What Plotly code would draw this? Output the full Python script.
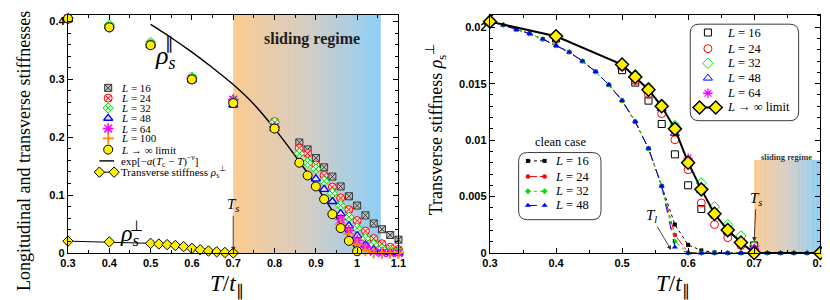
import plotly.graph_objects as go

# ---------------- data: left panel (longitudinal stiffness) ----------------
T_par_low = [0.3, 0.4, 0.5, 0.6, 0.7, 0.8]
T_par_high = [0.86, 0.88, 0.9, 0.92, 0.94, 0.96, 0.98, 1.0, 1.02, 1.04, 1.06, 1.08, 1.1]
T_par_L48_high = [0.9, 0.92, 0.94, 0.96, 0.98, 1.0, 1.02, 1.04, 1.06, 1.08, 1.1]
T_par_L64_high = [0.96, 0.98, 1.0, 1.02, 1.04, 1.06, 1.08, 1.1]
T_par_L100 = [0.96, 0.98, 1.0, 1.02, 1.04, 1.06, 1.08, 1.1]
T_par_inf_high = [0.86, 0.88, 0.9, 0.92, 0.94, 0.96, 0.98, 1.0]

par_L16 = [0.405, 0.391, 0.360, 0.300, 0.258, 0.224,
           0.191, 0.179, 0.164, 0.148, 0.132, 0.115, 0.098, 0.082, 0.065, 0.051, 0.041, 0.031, 0.023]
par_L24 = [0.405, 0.392, 0.361, 0.301, 0.262, 0.227,
           0.181, 0.172, 0.152, 0.134, 0.114, 0.095, 0.075, 0.056, 0.038, 0.025, 0.016, 0.010, 0.006]
par_L32 = [0.406, 0.394, 0.364, 0.304, 0.264, 0.226,
           0.172, 0.156, 0.145, 0.124, 0.103, 0.082, 0.062, 0.043, 0.025, 0.014, 0.007, 0.004, 0.002]
par_L48 = [0.405, 0.391, 0.359, 0.299, 0.256, 0.215,
           0.128, 0.110, 0.089, 0.068, 0.047, 0.030, 0.014, 0.0055, 0.002, 0.001, 0.0]
par_L64 = [0.405, 0.390, 0.360, 0.301, 0.265, 0.218,
           0.058, 0.039, 0.022, 0.011, 0.002, 0.0, 0.0, 0.0]
par_L100 = [0.050, 0.033, 0.015, 0.004, 0.0, 0.0, 0.0, 0.0]
par_inf = [0.405, 0.390, 0.359, 0.300, 0.259, 0.215,
           0.156, 0.134, 0.115, 0.093, 0.067, 0.043, 0.021, 0.003]

# fit curve exp[-a(Tc-T)^-nu]
T_fit = [0.5, 0.55, 0.6, 0.65, 0.7, 0.75, 0.8, 0.85, 0.9, 0.95, 0.98, 1.0]
fit_vals = [0.395, 0.372, 0.347, 0.320, 0.291, 0.257, 0.215, 0.168, 0.117, 0.062, 0.028, 0.0]

# ---------------- data: transverse stiffness ----------------
T_perp = [0.3, 0.4, 0.5, 0.52, 0.54, 0.56, 0.58, 0.6, 0.62, 0.64, 0.66, 0.68, 0.7, 0.8]
perp_inf = [0.0205, 0.0192, 0.0167, 0.0156, 0.01447, 0.0130, 0.0110, 0.0080,
            0.00564, 0.00347, 0.00203, 0.00093, 0.0, 0.0]

T_fin = [0.4, 0.5, 0.52, 0.54, 0.56, 0.58, 0.6, 0.62, 0.64, 0.66, 0.68, 0.7]
perp_L16 = [0.0190, 0.0162, 0.0151, 0.0135, 0.01143, 0.00874, 0.0060, 0.00390, 0.0034, 0.0019, 0.0009, 0.00067]
perp_L24 = [0.0191, 0.0165, 0.01528, 0.01403, 0.01235, 0.01004, 0.00738, 0.00443, 0.00252, 0.00136, 0.00067, 0.0003]
perp_L32 = [0.0193, 0.0168, 0.0158, 0.0147, 0.0132, 0.0113, 0.0082, 0.0062, 0.0041, 0.0025, 0.0015, 0.0006]
perp_L48 = [0.0193, 0.0165, 0.0156, 0.0144, 0.0128, 0.0106, 0.0079, 0.0055, 0.0034, 0.0019, 0.0009, 0.0004]
T_fin64 = [0.58, 0.6, 0.62, 0.64, 0.66, 0.68, 0.7]
perp_L64 = [0.0112, 0.0084, 0.0057, 0.0036, 0.0021, 0.0010, 0.0004]

T_clean = [0.3, 0.32, 0.34, 0.36, 0.38, 0.4, 0.42, 0.44, 0.46, 0.48, 0.5, 0.52, 0.54, 0.56,
           0.58, 0.6, 0.62, 0.64, 0.66, 0.68, 0.7, 0.72, 0.74, 0.76, 0.78, 0.8]
clean_common = [0.0205, 0.0202, 0.0198, 0.01944, 0.01895, 0.01837, 0.0178, 0.0170,
                0.01606, 0.0149, 0.01351, 0.01163, 0.00926, 0.00593]
clean_L16 = clean_common + [0.00252, 0.00072, 0.00023, 0.00005, 0, 0, 0, 0, 0, 0, 0, 0]
clean_L24 = clean_common + [0.00159, 0.00005, 0, 0, 0, 0, 0, 0, 0, 0, 0, 0]
clean_L32 = clean_common + [0.00101, 0.0, 0, 0, 0, 0, 0, 0, 0, 0, 0, 0]
clean_L48 = clean_common + [0.00052, 0.0, 0, 0, 0, 0, 0, 0, 0, 0, 0, 0]

x_ticks_left = [0.3, 0.4, 0.5, 0.6, 0.7, 0.8, 0.9, 1.0, 1.1]
x_ticks_right = [0.3, 0.4, 0.5, 0.6, 0.7, 0.8]
y_ticks_left = [0, 0.1, 0.2, 0.3, 0.4]
y_ticks_right = [0, 0.005, 0.01, 0.015, 0.02]

# ---------------- styles ----------------
SERIF = "Liberation Serif"
SANS = "Liberation Sans"
W, H = 830, 300

sty = {
    "L16": dict(symbol="square-x", size=7, color="rgb(200,200,200)", line=dict(color="rgb(50,50,50)", width=1)),
    "L24": dict(symbol="circle-x", size=8, color="rgb(255,220,220)", line=dict(color="red", width=1)),
    "L32": dict(symbol="diamond-x", size=8, color="rgb(220,255,220)", line=dict(color="rgb(0,220,0)", width=1)),
    "L48": dict(symbol="triangle-up", size=8, color="rgb(235,235,255)", line=dict(color="blue", width=1.3)),
    "L64": dict(symbol="asterisk-open", size=9, color="magenta", line=dict(color="magenta", width=1.6)),
    "L100": dict(symbol="cross-thin-open", size=8, color="darkorange", line=dict(color="darkorange", width=1.8)),
    "inf": dict(symbol="circle", size=9, color="rgb(255,240,0)", line=dict(color="black", width=1)),
}
sty_r = {
    "L16": dict(symbol="square-open", size=7, color="black", line=dict(color="black", width=1)),
    "L24": dict(symbol="circle-open", size=8, color="red", line=dict(color="red", width=1)),
    "L32": dict(symbol="diamond-open", size=8, color="rgb(0,230,0)", line=dict(color="rgb(0,230,0)", width=1)),
    "L48": dict(symbol="triangle-up-open", size=8, color="blue", line=dict(color="blue", width=1)),
    "L64": dict(symbol="asterisk-open", size=8, color="magenta", line=dict(color="magenta", width=1.3)),
    "inf": dict(symbol="diamond", size=10, color="rgb(255,240,0)", line=dict(color="black", width=1.5)),
}
clean_sty = [
    ("L16", clean_L16, "black", "dot", dict(symbol="square", size=4, color="black")),
    ("L24", clean_L24, "red", "dashdot", dict(symbol="circle", size=4.5, color="red")),
    ("L32", clean_L32, "rgb(0,220,0)", "dot", dict(symbol="diamond", size=4.5, color="rgb(0,220,0)")),
    ("L48", clean_L48, "blue", "dash", dict(symbol="triangle-up", size=5.5, color="blue")),
]

fig = go.Figure()

def sc(x, y, xa, ya, marker=None, mode="markers", line=None):
    fig.add_trace(go.Scatter(x=x, y=y, xaxis=xa, yaxis=ya, mode=mode, marker=marker,
                             line=line, showlegend=False, cliponaxis=False, hoverinfo="skip"))

# ---- left panel traces ----
sc(T_fit, fit_vals, "x", "y", mode="lines", line=dict(color="black", width=1.4, shape="spline"))
sc(T_perp[:13], perp_inf[:13], "x", "y", mode="lines+markers",
   line=dict(color="black", width=1),
   marker=dict(symbol="diamond", size=8, color="rgb(255,240,0)", line=dict(color="black", width=1)))
sc(T_par_low + T_par_high, par_L16, "x", "y", marker=sty["L16"])
sc(T_par_low + T_par_high, par_L24, "x", "y", marker=sty["L24"])
sc(T_par_low + T_par_high, par_L32, "x", "y", marker=sty["L32"])
sc(T_par_low + T_par_L48_high, par_L48, "x", "y", marker=sty["L48"])
sc(T_par_low + T_par_L64_high, par_L64, "x", "y", marker=sty["L64"])
sc(T_par_L100, par_L100, "x", "y", marker=sty["L100"])
sc(T_par_low + T_par_inf_high, par_inf, "x", "y", marker=sty["inf"])

# ---- right panel traces ----
for key, vals, col, dash, mk in clean_sty:
    sc(T_clean, vals, "x2", "y2", mode="lines+markers", line=dict(color=col, width=1, dash=dash), marker=mk)
sc(T_fin, perp_L16, "x2", "y2", marker=sty_r["L16"])
sc(T_fin, perp_L24, "x2", "y2", marker=sty_r["L24"])
sc(T_fin, perp_L32, "x2", "y2", marker=sty_r["L32"])
sc(T_fin, perp_L48, "x2", "y2", marker=sty_r["L48"])
sc(T_fin64, perp_L64, "x2", "y2", marker=sty_r["L64"])
sc(T_perp, perp_inf, "x2", "y2", mode="lines+markers", line=dict(color="black", width=2), marker=sty_r["inf"])

# ---------------- legends (drawn in a pixel overlay) ----------------
shapes = []
ann = []

def ptext(x, y, text, size=12, xanchor="left", family=SERIF, color="black", angle=0, yanchor="middle"):
    ann.append(dict(x=x, y=y, xref="x3", yref="y3", text=text, showarrow=False, xanchor=xanchor,
                    yanchor=yanchor, textangle=angle, borderpad=0,
                    font=dict(family=family, size=size, color=color)))

# left legend
leg_y = [81.5, 92, 102, 112.5, 123, 133, 144.5, 156, 167.5]
leg_lbl = ["<i>L</i> = 16", "<i>L</i> = 24", "<i>L</i> = 32", "<i>L</i> = 48", "<i>L</i> = 64",
           "<i>L</i> = 100", "<i>L</i> → ∞ limit",
           "exp[−<i>a</i>(<i>T</i><sub>c</sub> − <i>T</i>)<sup>−<i>ν</i></sup>]",
           "Transverse stiffness <i>ρ</i><sub>s</sub><sup>⊥</sup>"]
for k, yy in zip(["L16", "L24", "L32", "L48", "L64", "L100", "inf"], leg_y[:7]):
    sc([94], [yy], "x3", "y3", marker=sty[k])
sc([85, 100], [leg_y[7]] * 2, "x3", "y3", mode="lines", line=dict(color="black", width=1.4))
sc([85, 100], [leg_y[8]] * 2, "x3", "y3", mode="lines+markers", line=dict(color="black", width=1),
   marker=dict(symbol="diamond", size=8, color="rgb(255,240,0)", line=dict(color="black", width=1)))
for yy, t in zip(leg_y, leg_lbl):
    ptext(106, yy, t, size=11)

def rrect(x0, y0, x1, y1, r):
    return (f"M{x0+r},{y0} L{x1-r},{y0} Q{x1},{y0} {x1},{y0+r} L{x1},{y1-r} Q{x1},{y1} {x1-r},{y1} "
            f"L{x0+r},{y1} Q{x0},{y1} {x0},{y1-r} L{x0},{y0+r} Q{x0},{y0} {x0+r},{y0} Z")

# right legend (finite L)
shapes.append(dict(type="path", path=rrect(687.5, 16.5, 798, 115, 9), xref="x3", yref="y3",
                   line=dict(color="rgb(60,60,60)", width=1), fillcolor="white", layer="below"))
r_y = [25, 41.5, 56.5, 71.5, 87, 101.5]
for k, yy in zip(["L16", "L24", "L32", "L48", "L64"], r_y[:5]):
    sc([705.5], [yy], "x3", "y3", marker=sty_r[k])
sc([697, 713.5], [r_y[5]] * 2, "x3", "y3", mode="lines+markers", line=dict(color="black", width=2),
   marker=sty_r["inf"])
for yy, t in zip(r_y, ["<i>L</i> = 16", "<i>L</i> = 24", "<i>L</i> = 32", "<i>L</i> = 48", "<i>L</i> = 64",
                       "<i>L</i> → ∞ limit"]):
    ptext(724, yy, t, size=12.5)

# clean-case legend
shapes.append(dict(type="path", path=rrect(512.5, 147.5, 596.5, 216, 9), xref="x3", yref="y3",
                   line=dict(color="rgb(60,60,60)", width=1), fillcolor="white", layer="below"))
ptext(555, 137, "clean case", size=12.5, xanchor="center")
c_y = [156, 172, 187, 201.5]
for (key, vals, col, dash, mk), yy in zip(clean_sty, c_y):
    sc([522, 539], [yy, yy], "x3", "y3", mode="lines+markers", line=dict(color=col, width=1, dash=dash), marker=mk)
    ptext(549, yy, f"<i>L</i> = {key[1:]}", size=12.5)

# ---------------- shaded sliding regime (gradient) ----------------
stops = [(0.0, (250, 203, 145)), (0.5, (214, 205, 196)), (1.0, (140, 206, 247))]

def gcol(f):
    for (f0, c0), (f1, c1) in zip(stops[:-1], stops[1:]):
        if f <= f1:
            t = (f - f0) / (f1 - f0)
            return "rgb(%d,%d,%d)" % tuple(round(a + (b - a) * t) for a, b in zip(c0, c1))
    return "rgb(%d,%d,%d)" % stops[-1][1]

def gradient(xref, yref, xa, xb, ya, yb, n=60):
    for i in range(n):
        x0 = xa + (xb - xa) * i / n
        x1 = xa + (xb - xa) * (i + 1) / n + (xb - xa) * 0.004
        if i == n - 1:
            x1 = xb
        shapes.append(dict(type="rect", xref=xref, yref=yref, x0=x0, x1=x1, y0=ya, y1=yb,
                           fillcolor=gcol((i + 0.5) / n), line=dict(width=0), layer="below"))

gradient("x", "y domain", 0.7, 1.057, 0, 1)
gradient("x2", "y2", 0.7, 0.8, 0, 0.00825, n=40)

# ---------------- text annotations ----------------
ptext(302, 32, "<b>sliding regime</b>", size=16, xanchor="center", color="rgb(30,30,30)")
ptext(785.5, 152.5, "<b>sliding regime</b>", size=8.5, xanchor="center", color="rgb(50,50,50)")

# rho labels
ptext(141, 50, "<i>ρ</i><sub><i>s</i></sub>", size=26, xanchor="left")
ptext(156.5, 36, "∥", size=17, xanchor="center")
ptext(105, 232, "<i>ρ</i><sub><i>s</i></sub>", size=24, xanchor="left")
ptext(122.5, 222, "⊥", size=15, xanchor="center")

# axis titles
ptext(8, 146, "Longitudinal and transverse stiffnesses", size=18, xanchor="center", angle=-90)
ptext(428, 124, "Transverse stiffness <i>ρ</i><sub>s</sub><sup>⊥</sup>", size=18, xanchor="center", angle=-90)
ptext(215, 283, "<i>T</i>/<i>t</i><sub>∥</sub>", size=23, xanchor="center")
ptext(670, 283, "<i>T</i>/<i>t</i><sub>∥</sub>", size=23, xanchor="center")

# arrows
def arrow(x, y, xref, yref, text, ax, ay):
    ann.append(dict(x=x, y=y, xref=xref, yref=yref, text=text, showarrow=True, ax=ax, ay=ay,
                    arrowhead=2, arrowsize=1, arrowwidth=0.9, arrowcolor="rgb(50,50,50)",
                    font=dict(family=SERIF, size=15, color="black")))

arrow(0.7, 0.003, "x", "y", "<i>T</i><sub><i>s</i></sub>", 0, -46)
arrow(1.057, -0.012, "x", "y", "<i>T</i><sub><i>u</i></sub>", 0, 33)
arrow(0.7, 0.0010, "x2", "y2", "<i>T</i><sub><i>s</i></sub>", 2, -43)
arrow(0.5743, 0.00026, "x2", "y2", "<i>T</i><sub><i>l</i></sub>", -20, -34)

# ---------------- axes ----------------
def ax_common(**kw):
    d = dict(showline=True, linecolor="black", linewidth=1.4, mirror="allticks", ticks="inside",
             ticklen=5, tickwidth=1, tickcolor="black", showgrid=False, zeroline=False,
             tickfont=dict(family=SANS, size=11, color="black"), fixedrange=True)
    d.update(kw)
    return d

def bold(vals):
    return ["<b>%g</b>" % v for v in vals]

yd = [(H - 250) / H, (H - 7) / H]
fig.update_layout(
    width=W, height=H, autosize=False,
    margin=dict(l=0, r=0, t=0, b=0),
    paper_bgcolor="white", plot_bgcolor="rgba(0,0,0,0)",
    showlegend=False,
    xaxis=ax_common(domain=[53 / W, 390 / W], range=[0.3, 1.1], anchor="y",
                    tickvals=x_ticks_left, ticktext=bold(x_ticks_left),
                    minor=dict(dtick=0.05, tick0=0.3, ticks="inside", ticklen=3, tickcolor="black")),
    yaxis=ax_common(domain=yd, range=[0, 0.4115], anchor="x",
                    tickvals=y_ticks_left, ticktext=bold(y_ticks_left),
                    minor=dict(dtick=0.02, tick0=0, ticks="inside", ticklen=3, tickcolor="black")),
    xaxis2=ax_common(domain=[483.3 / W, 820 / W], range=[0.3, 0.8], anchor="y2",
                     tickvals=x_ticks_right, ticktext=bold(x_ticks_right),
                     minor=dict(dtick=0.05, tick0=0.3, ticks="inside", ticklen=3, tickcolor="black")),
    yaxis2=ax_common(domain=yd, range=[0, 0.0211], anchor="x2",
                     tickvals=y_ticks_right, ticktext=bold(y_ticks_right),
                     minor=dict(dtick=0.001, tick0=0, ticks="inside", ticklen=3, tickcolor="black")),
    xaxis3=dict(domain=[0, 1], range=[0, W], visible=False, anchor="y3", fixedrange=True),
    yaxis3=dict(domain=[0, 1], range=[H, 0], visible=False, anchor="x3", fixedrange=True),
    shapes=shapes, annotations=ann,
)

fig.write_html("out.html")
